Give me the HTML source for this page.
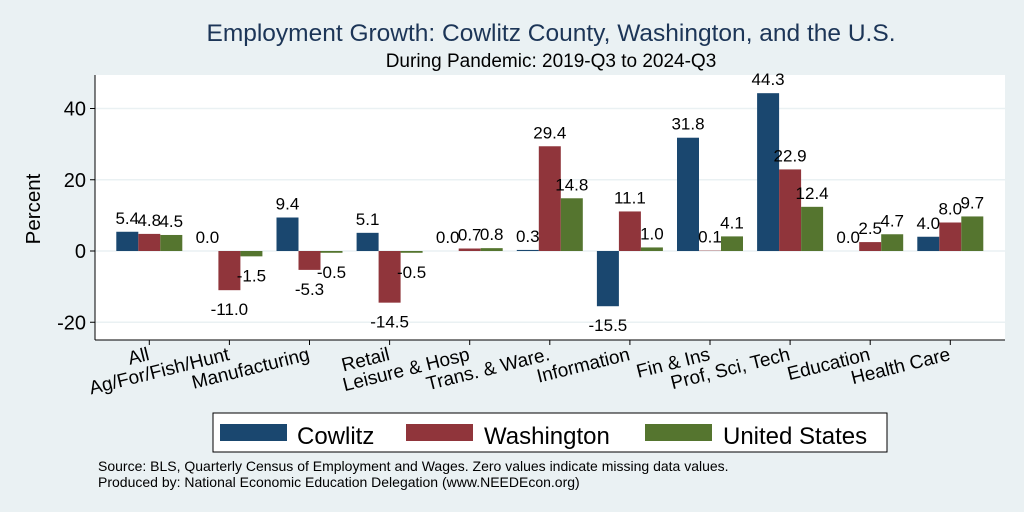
<!DOCTYPE html>
<html><head><meta charset="utf-8"><style>
body{margin:0;background:#eaf1f3;}
svg{display:block;font-family:"Liberation Sans",Arial,sans-serif;}
</style></head><body>
<svg id="chart" width="1024" height="512">
<rect x="0" y="0" width="1024" height="512" fill="#eaf1f3"/>
<text x="551" y="41" text-anchor="middle" font-size="24.5" fill="#1c3557">Employment Growth: Cowlitz County, Washington, and the U.S.</text>
<text x="551" y="67" text-anchor="middle" font-size="19" fill="#000">During Pandemic: 2019-Q3 to 2024-Q3</text>
<rect x="95" y="75" width="910" height="265" fill="#fff"/>
<g id="grid"></g><g id="bars"></g><g id="labels"></g><g id="xlabels"></g>
<line x1="95" y1="75" x2="95" y2="340" stroke="#000" stroke-width="1"/>
<line x1="95" y1="340" x2="1005" y2="340" stroke="#000" stroke-width="1"/>
<text transform="translate(40,209) rotate(-90)" text-anchor="middle" font-size="20.5">Percent</text>
<g id="legend">
<rect x="213" y="413" width="674" height="39" fill="#fff" stroke="#000" stroke-width="1"/>
<rect x="220" y="424" width="67" height="17" fill="#1a476f"/>
<text x="297" y="444" font-size="24">Cowlitz</text>
<rect x="406" y="424" width="67" height="17" fill="#90353b"/>
<text x="484" y="444" font-size="24">Washington</text>
<rect x="645" y="424" width="67" height="17" fill="#55752f"/>
<text x="723" y="444" font-size="24">United States</text>
</g>
<text x="98" y="471" font-size="14">Source: BLS, Quarterly Census of Employment and Wages. Zero values indicate missing data values.</text>
<text x="98" y="487" font-size="14">Produced by: National Economic Education Delegation (www.NEEDEcon.org)</text>
</svg>
<script>
const categories=["All","Ag/For/Fish/Hunt","Manufacturing","Retail","Leisure & Hosp","Trans. & Ware.","Information","Fin & Ins","Prof, Sci, Tech","Education","Health Care"];
const cowlitz=[5.4,0.0,9.4,5.1,0.0,0.3,-15.5,31.8,44.3,0.0,4.0];
const washington=[4.8,-11.0,-5.3,-14.5,0.7,29.4,11.1,0.1,22.9,2.5,8.0];
const unitedStates=[4.5,-1.5,-0.5,-0.5,0.8,14.8,1.0,4.1,12.4,4.7,9.7];
const yTicks=[-20,0,20,40];
const seriesList=[["cowlitz",cowlitz,"#1a476f"],["washington",washington,"#90353b"],["united-states",unitedStates,"#55752f"]];
const NS="http://www.w3.org/2000/svg";
function y(v){return 251-v*3.5625;}
function groupStart(i){return 116.3+i*80.1;}
const BW=22;
function mk(tag,attrs,parent){const e=document.createElementNS(NS,tag);for(const k in attrs)e.setAttribute(k,attrs[k]);document.getElementById(parent).appendChild(e);return e;}
yTicks.forEach(t=>{
  const l=mk("line",{x1:95,x2:1005,y1:y(t),y2:y(t),stroke:"#eaf1f3","stroke-width":1.5},"grid");
  
  
  const tk=mk("line",{x1:90,x2:95,y1:y(t),y2:y(t),stroke:"#000"},"grid");
  
  
  const tx=mk("text",{x:86,y:y(t)+7,"text-anchor":"end","font-size":20},"grid");
  tx.textContent=t;
  
  
});
categories.forEach((c,i)=>{
  seriesList.forEach((s,j)=>{
    const v=s[1][i];const x=groupStart(i)+j*BW;
    const r=mk("rect",{x:x,y:Math.min(y(v),y(0)),width:BW,height:Math.abs(y(v)-y(0)),fill:s[2]},"bars");
    
    
    const ly=v>=0?y(v)-8:y(v)+25;
    const t=mk("text",{x:x+BW/2,y:ly,"text-anchor":"middle","font-size":17},"labels");
    t.textContent=v.toFixed(1);
    
    
  });
  const cx=groupStart(i)+33;
  const tk=mk("line",{x1:cx,x2:cx,y1:340,y2:345,stroke:"#000"},"xlabels");
  
  
  const by=360;
  const xt=mk("text",{x:cx+1,y:by,"text-anchor":"end","font-size":19,transform:"rotate(-14 "+cx+" "+by+")"},"xlabels");
  xt.textContent=c;
  
  
});
</script>
</body></html>
